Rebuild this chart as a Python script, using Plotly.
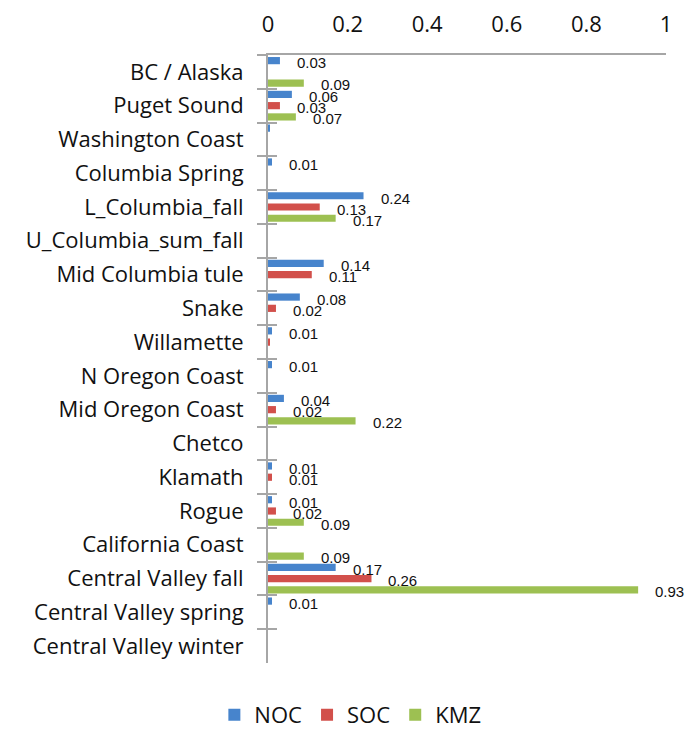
import plotly.graph_objects as go

categories = [
    "BC / Alaska", "Puget Sound", "Washington Coast", "Columbia Spring",
    "L_Columbia_fall", "U_Columbia_sum_fall", "Mid Columbia tule", "Snake",
    "Willamette", "N Oregon Coast", "Mid Oregon Coast", "Chetco", "Klamath",
    "Rogue", "California Coast", "Central Valley fall", "Central Valley spring",
    "Central Valley winter",
]
noc = [0.03, 0.06, 0.004, 0.01, 0.24, None, 0.14, 0.08, 0.01, 0.01, 0.04, None,
       0.01, 0.01, None, 0.17, 0.01, None]
soc = [None, 0.03, None, None, 0.13, None, 0.11, 0.02, 0.004, None, 0.02, None,
       0.01, 0.02, None, 0.26, None, None]
kmz = [0.09, 0.07, None, None, 0.17, None, None, None, None, None, 0.22, None,
       None, 0.09, 0.09, 0.93, None, None]
series_names = ["NOC", "SOC", "KMZ"]
x_ticks = [0, 0.2, 0.4, 0.6, 0.8, 1]

colors = ["#4784cc", "#d2504b", "#9dc052"]
label_yshift = [9, -2, -13]
axis_color = "#a6a6a6"
cat_font = "Open Sans, Calibri, sans-serif"
lab_font = "Liberation Sans, Arial, sans-serif"

n = len(categories)
y_range = [n - 0.5, -0.5]

fig = go.Figure()
all_series = [noc, soc, kmz]
for name, vals, col in zip(series_names, all_series, colors):
    fig.add_trace(go.Bar(
        y=categories, x=vals, name=name, orientation="h",
        marker=dict(color=col, line=dict(width=0)),
    ))

# invisible trace to carry the inner part of the category tick marks
fig.add_trace(go.Scatter(
    x=[0] * n, y=categories, yaxis="y2", mode="markers",
    marker=dict(opacity=0), showlegend=False, hoverinfo="skip",
))

annotations = []
for vals, ys in zip(all_series, label_yshift):
    for cat, v in zip(categories, vals):
        if v is None or round(v, 2) <= 0:
            continue
        annotations.append(dict(
            x=v, y=cat, xref="x", yref="y", text=f"{v:.2f}",
            showarrow=False, xanchor="left", yanchor="middle",
            xshift=15, yshift=ys,
            font=dict(family=lab_font, size=15, color="#111111"),
        ))

fig.update_layout(
    width=687, height=736,
    margin=dict(l=268, r=21, t=55, b=73, autoexpand=False),
    paper_bgcolor="white", plot_bgcolor="white",
    barmode="group", bargap=0, bargroupgap=0.36,
    showlegend=True,
    legend=dict(
        orientation="h", xref="container", yref="container",
        x=0.51, xanchor="center", y=0.0, yanchor="bottom",
        font=dict(family=cat_font, size=22, color="#111111"),
        traceorder="normal", itemwidth=30,
    ),
    xaxis=dict(
        side="top", range=[0, 1], tickvals=x_ticks,
        showline=True, linecolor=axis_color, linewidth=2,
        showgrid=False, zeroline=False, ticks="",
        ticklabelstandoff=12, automargin=False,
        tickfont=dict(family=cat_font, size=22, color="#111111"),
    ),
    yaxis=dict(
        range=y_range, autorange=False,
        categoryorder="array", categoryarray=categories,
        showline=True, linecolor=axis_color, linewidth=2,
        ticks="outside", tickson="boundaries", ticklen=9,
        tickcolor=axis_color, tickwidth=2, showgrid=False,
        ticklabelstandoff=18, automargin=False,
        tickfont=dict(family=cat_font, size=22, color="#111111"),
    ),
    yaxis2=dict(
        overlaying="y", side="left", range=y_range, autorange=False,
        categoryorder="array", categoryarray=categories,
        ticks="inside", tickson="boundaries", ticklen=9,
        tickcolor=axis_color, tickwidth=2, showticklabels=False,
        showline=False, showgrid=False, automargin=False,
    ),
    annotations=annotations,
)

fig.write_html("out.html")
